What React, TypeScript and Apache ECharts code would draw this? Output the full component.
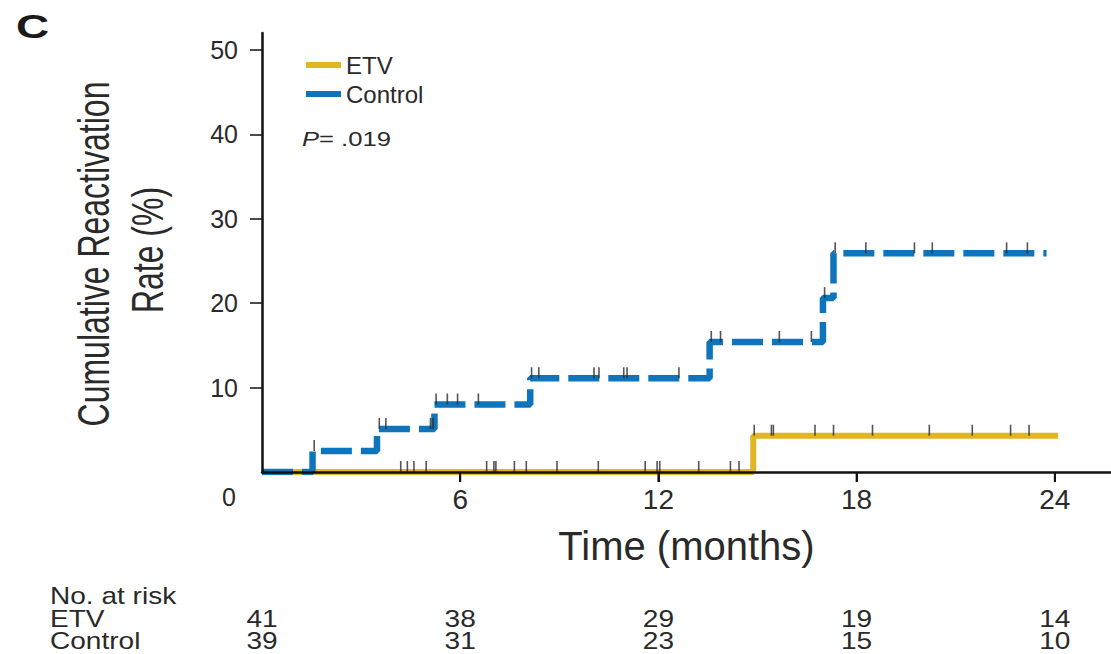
import React, { useEffect, useRef } from "react";
import * as echarts from "echarts";

// Kaplan-Meier style cumulative curves (time in months, rate in %)
const etvTimes = [0, 14.87, 24.1];
const etvRates = [0, 4.3, 4.3];
const controlTimes = [0, 1.53, 3.48, 5.22, 8.12, 13.55, 16.98, 17.3, 23.75];
const controlRates = [0, 2.5, 5.1, 8.0, 11.1, 15.4, 20.6, 25.9, 25.9];

// Censoring marks (months)
const etvCensorTimes = [
  4.2, 4.4, 4.6, 4.97, 6.8, 7.02, 7.08, 7.64, 8.0, 8.93, 10.18, 11.6, 11.96,
  12.04, 13.22, 14.18, 14.44, 14.9, 15.42, 15.48, 16.74, 17.3, 18.48, 20.2,
  21.5, 22.66, 23.22,
];
const controlCensorTimes = [
  1.58, 3.55, 3.75, 5.1, 5.18, 5.27, 5.61, 5.92, 6.55, 8.16, 8.38, 10.05,
  10.2, 10.95, 11.05, 12.62, 13.6, 13.88, 15.66, 16.63, 17.03, 17.35, 18.28,
  19.75, 20.29, 22.54, 23.17,
];

const xTickValues = [6, 12, 18, 24];
const yTickValues = [10, 20, 30, 40, 50];

// Number at risk table
const riskTimes = [0, 6, 12, 18, 24];
const etvAtRisk = [41, 38, 29, 19, 14];
const controlAtRisk = [39, 31, 23, 15, 10];

const ETV_COLOR = "#E2B523";
const CONTROL_COLOR = "#0E74BC";
const TEXT = "#2a2a2a";
const AXIS = "#111111";
const FONT = "'Liberation Sans', Arial, Helvetica, sans-serif";

function levelAt(times: number[], rates: number[], t: number): number {
  let v = rates[0];
  for (let i = 0; i < times.length; i++) {
    if (times[i] <= t) v = rates[i];
  }
  return v;
}

export default function App() {
  const ref = useRef<HTMLDivElement>(null);

  useEffect(() => {
    if (!ref.current) return;
    const chart = echarts.init(ref.current, null, { renderer: "svg" });

    const etvData = etvTimes.map((t, i) => [t, etvRates[i]]);
    const controlData = controlTimes.map((t, i) => [t, controlRates[i]]);
    const etvCensor = etvCensorTimes.map((t) => [t, levelAt(etvTimes, etvRates, t)]);
    const controlCensor = controlCensorTimes.map((t) => [
      t,
      levelAt(controlTimes, controlRates, t),
    ]);

    const censorSeries = (name: string, data: number[][]) => ({
      name,
      type: "scatter",
      data,
      symbol: "rect",
      symbolSize: [1.6, 11],
      symbolOffset: [0, -5.5],
      itemStyle: { color: "#2b2b2b" },
      silent: true,
      z: 5,
    });

    chart.setOption({
      animation: false,
      backgroundColor: "#ffffff",
      grid: { left: 262, top: 33, right: 0, bottom: 182, outerBoundsMode: "none" },
      legend: {
        data: [
          { name: "ETV", itemStyle: { color: ETV_COLOR } },
          { name: "Control", itemStyle: { color: CONTROL_COLOR } },
        ],
        orient: "vertical",
        left: 301,
        top: 48,
        icon: "rect",
        itemWidth: 35,
        itemHeight: 6,
        itemGap: 5,
        textStyle: { color: TEXT, fontSize: 24, fontFamily: FONT },
        selectedMode: false,
      },
      xAxis: {
        type: "value",
        min: 0,
        max: 25.7,
        z: 10,
        name: "Time (months)",
        nameLocation: "middle",
        nameGap: 54,
        nameTextStyle: { color: TEXT, fontSize: 40, fontFamily: FONT },
        splitLine: { show: false },
        axisLine: { show: true, onZero: false, lineStyle: { color: AXIS, width: 2.5 } },
        axisTick: {
          show: true,
          customValues: xTickValues,
          length: 10,
          lineStyle: { color: AXIS, width: 2 },
        },
        axisLabel: {
          customValues: xTickValues,
          color: TEXT,
          fontSize: 28,
          fontFamily: FONT,
          margin: 13,
        },
      },
      yAxis: {
        type: "value",
        min: 0,
        max: 52,
        z: 10,
        splitLine: { show: false },
        axisLine: { show: true, onZero: false, lineStyle: { color: AXIS, width: 2.5 } },
        axisTick: {
          show: true,
          customValues: yTickValues,
          length: 12,
          lineStyle: { color: AXIS, width: 1.5 },
        },
        axisLabel: {
          customValues: yTickValues,
          color: TEXT,
          fontSize: 25,
          fontFamily: FONT,
          margin: 24,
        },
      },
      series: [
        {
          name: "ETV",
          type: "line",
          step: "end",
          data: etvData,
          symbol: "none",
          color: ETV_COLOR,
          lineStyle: { color: ETV_COLOR, width: 6, cap: "butt" },
          z: 2,
        },
        {
          name: "Control",
          type: "line",
          step: "end",
          data: controlData,
          symbol: "none",
          color: CONTROL_COLOR,
          lineStyle: { color: CONTROL_COLOR, width: 6.5, type: [31, 9], cap: "butt" },
          z: 3,
        },
        censorSeries("ETV censored", etvCensor),
        censorSeries("Control censored", controlCensor),
      ],
    });

    const px = (t: number) => chart.convertToPixel({ xAxisIndex: 0 }, t) as number;
    const py = (v: number) => chart.convertToPixel({ yAxisIndex: 0 }, v) as number;
    const y0 = py(0);

    const tableText = (text: string, x: number, y: number, align: string) => ({
      type: "text",
      x,
      y,
      scaleX: 1.22,
      style: {
        text,
        fill: TEXT,
        fontSize: 23,
        fontFamily: FONT,
        align,
        verticalAlign: "middle",
      },
    });

    const graphics: any[] = [
      {
        type: "text",
        x: 32.5,
        y: 26,
        scaleX: 1.35,
        style: {
          text: "C",
          fill: "#1a1a1a",
          fontSize: 34,
          fontWeight: "bold",
          fontFamily: FONT,
          align: "center",
          verticalAlign: "middle",
        },
      },
      {
        type: "text",
        x: 302,
        y: 139,
        scaleX: 1.28,
        style: {
          text: "{i|P}= .019",
          fill: TEXT,
          fontSize: 20,
          fontFamily: FONT,
          align: "left",
          verticalAlign: "middle",
          rich: { i: { fontStyle: "italic", fontSize: 20, fontFamily: FONT, fill: TEXT } },
        },
      },
      {
        type: "text",
        x: 93.5,
        y: 254,
        rotation: Math.PI / 2,
        scaleY: 1.4,
        style: {
          text: "Cumulative Reactivation",
          fill: TEXT,
          fontSize: 32,
          fontFamily: FONT,
          align: "center",
          verticalAlign: "middle",
        },
      },
      {
        type: "text",
        x: 147.5,
        y: 250,
        rotation: Math.PI / 2,
        scaleY: 1.4,
        style: {
          text: "Rate (%)",
          fill: TEXT,
          fontSize: 32,
          fontFamily: FONT,
          align: "center",
          verticalAlign: "middle",
        },
      },
      {
        type: "text",
        x: 229,
        y: 497,
        style: {
          text: "0",
          fill: TEXT,
          fontSize: 25,
          fontFamily: FONT,
          align: "center",
          verticalAlign: "middle",
        },
      },
      tableText("No. at risk", 50, 596, "left"),
      tableText("ETV", 50, 619, "left"),
      tableText("Control", 50, 641, "left"),
    ];
    // downward x ticks placed through the axis scale
    xTickValues.forEach((t) => {
      graphics.push({
        type: "line",
        z: 20,
        shape: { x1: px(t), y1: y0, x2: px(t), y2: y0 + 10 },
        style: { stroke: AXIS, lineWidth: 2 },
        silent: true,
      });
    });
    riskTimes.forEach((t, i) => {
      graphics.push(tableText(String(etvAtRisk[i]), px(t), 619, "center"));
      graphics.push(tableText(String(controlAtRisk[i]), px(t), 641, "center"));
    });

    chart.setOption({ graphic: graphics });

    return () => chart.dispose();
  }, []);

  return (
    <div
      ref={ref}
      style={{ position: "fixed", left: 0, top: 0, width: 1111, height: 654, background: "#fff" }}
    />
  );
}
